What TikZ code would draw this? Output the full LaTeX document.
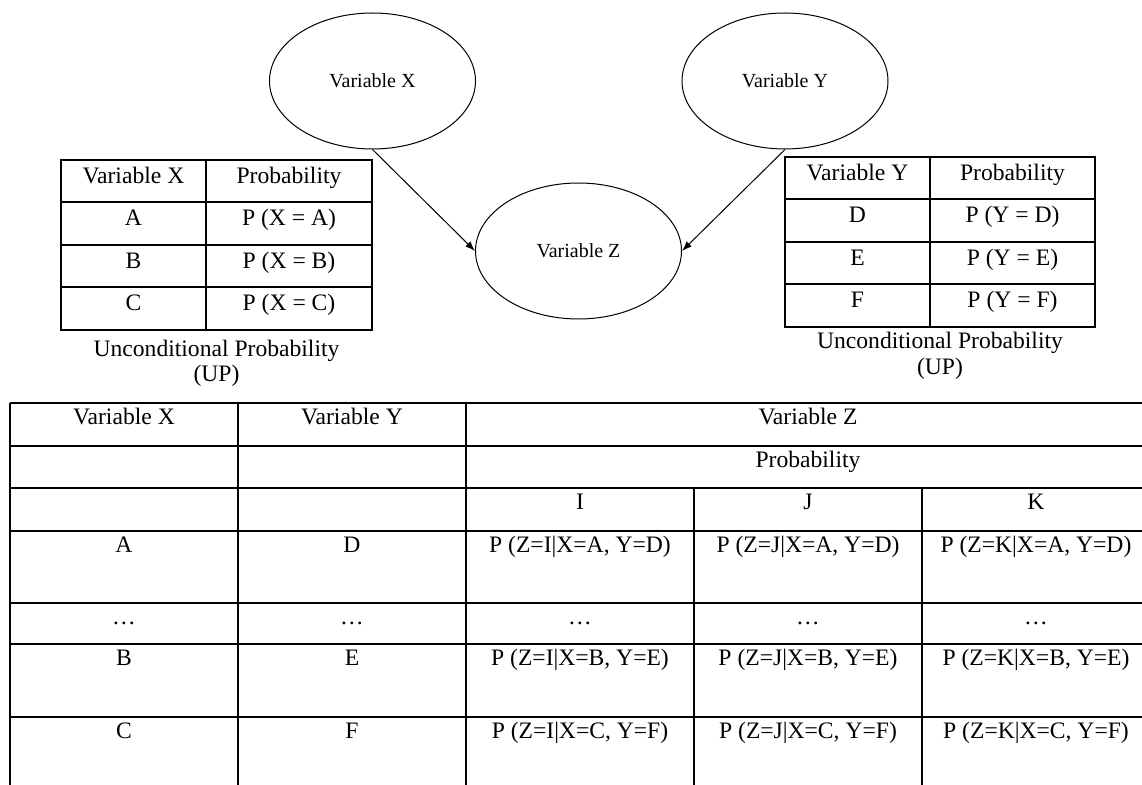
\documentclass[tikz,border=0pt]{standalone}
\usepackage{fontspec}
\setmainfont{Liberation Serif}
\usetikzlibrary{shapes.geometric,arrows.meta}
\newcommand\tabfont{\fontsize{11.8}{12.5}\selectfont}
\newcommand\ellfont{\fontsize{10}{12}\selectfont}

\begin{document}
\begin{tikzpicture}[x=0.5pt,y=-0.5pt,
  var/.style={ellipse,draw,line width=0.5pt,minimum width=103pt,minimum height=68pt,inner sep=0pt,font=\ellfont},
  link/.style={-{Latex[length=5pt,width=3.6pt]},line width=0.5pt},
  rule/.style={line width=0.7pt},
  cell/.style={anchor=base,inner sep=0pt,font=\tabfont},
  tabcap/.style={anchor=base,inner sep=0pt,font=\tabfont}]
\useasboundingbox (0,0) rectangle (1142,785);
\clip (0,0) rectangle (1142,785);

% Bayesian network: two parents and one child
\node[var] (X) at (372.5,81) {Variable X};
\node[var] (Y) at (785,81) {Variable Y};
\node[var] (Z) at (578.5,251) {Variable Z};
\draw[link] (X.south) -- (Z.west);
\draw[link] (Y.south) -- (Z.east);

% Unconditional probability table of X
\draw[rule] (61,160) rectangle (372,330);
\draw[rule] (206,160) -- (206,330);
\foreach \y in {202,245,287} \draw[rule] (61,\y) -- (372,\y);
\node[cell] (xh1) at (133.5,184) {Variable X};
\node[cell] (xh2) at (289,184) {Probability};
\node[cell] (xa) at (133.5,226) {A};
\node[cell] (pxa) at (289,226) {P (X = A)};
\node[cell] (xb) at (133.5,269) {B};
\node[cell] (pxb) at (289,269) {P (X = B)};
\node[cell] (xc) at (133.5,311) {C};
\node[cell] (pxc) at (289,311) {P (X = C)};
\node[tabcap] (xcap1) at (216.5,357) {Unconditional Probability};
\node[tabcap] (xcap2) at (216.5,382) {(UP)};

% Unconditional probability table of Y
\draw[rule] (785,157) rectangle (1095,327);
\draw[rule] (930,157) -- (930,327);
\foreach \y in {199,242,284} \draw[rule] (785,\y) -- (1095,\y);
\node[cell] (yh1) at (857.5,181) {Variable Y};
\node[cell] (yh2) at (1012.5,181) {Probability};
\node[cell] (yd) at (857.5,223) {D};
\node[cell] (pyd) at (1012.5,223) {P (Y = D)};
\node[cell] (ye) at (857.5,266) {E};
\node[cell] (pye) at (1012.5,266) {P (Y = E)};
\node[cell] (yf) at (857.5,308) {F};
\node[cell] (pyf) at (1012.5,308) {P (Y = F)};
\node[tabcap] (ycap1) at (940,349) {Unconditional Probability};
\node[tabcap] (ycap2) at (940,375) {(UP)};

% Conditional probability table of Z
\foreach \y in {403,446,488,531,603,644,717,789} \draw[rule] (10,\y) -- (1150,\y);
\foreach \x in {10,238,466,1150} \draw[rule] (\x,403) -- (\x,789);
\foreach \x in {694,922} \draw[rule] (\x,488) -- (\x,789);

\node[cell] (hx) at (124,425) {Variable X};
\node[cell] (hy) at (352,425) {Variable Y};
\node[cell] (hz) at (808,425) {Variable Z};
\node[cell] (hp) at (808,468) {Probability};
\node[cell] (hi) at (580,510) {I};
\node[cell] (hj) at (808,510) {J};
\node[cell] (hk) at (1036,510) {K};

\node[cell] (r1x) at (124,553) {A};
\node[cell] (r1y) at (352,553) {D};
\node[cell] (r1i) at (580,553) {P (Z=I|X=A, Y=D)};
\node[cell] (r1j) at (808,553) {P (Z=J|X=A, Y=D)};
\node[cell] (r1k) at (1036,553) {P (Z=K|X=A, Y=D)};

\node[cell] (r2x) at (124,625) {…};
\node[cell] (r2y) at (352,625) {…};
\node[cell] (r2i) at (580,625) {…};
\node[cell] (r2j) at (808,625) {…};
\node[cell] (r2k) at (1036,625) {…};

\node[cell] (r3x) at (124,666) {B};
\node[cell] (r3y) at (352,666) {E};
\node[cell] (r3i) at (580,666) {P (Z=I|X=B, Y=E)};
\node[cell] (r3j) at (808,666) {P (Z=J|X=B, Y=E)};
\node[cell] (r3k) at (1036,666) {P (Z=K|X=B, Y=E)};

\node[cell] (r4x) at (124,739) {C};
\node[cell] (r4y) at (352,739) {F};
\node[cell] (r4i) at (580,739) {P (Z=I|X=C, Y=F)};
\node[cell] (r4j) at (808,739) {P (Z=J|X=C, Y=F)};
\node[cell] (r4k) at (1036,739) {P (Z=K|X=C, Y=F)};
\end{tikzpicture}
\end{document}
